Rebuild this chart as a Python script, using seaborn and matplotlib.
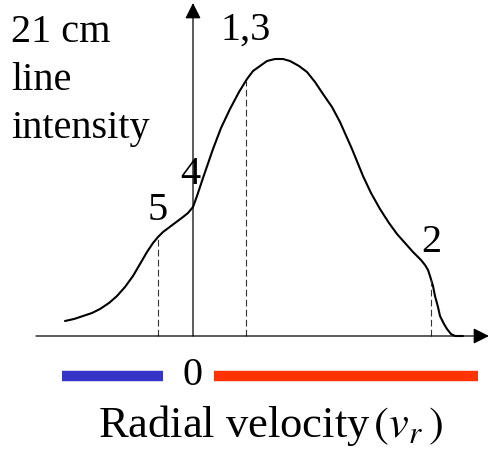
import matplotlib
matplotlib.use("Agg")
import matplotlib.pyplot as plt
import seaborn as sns
import pandas as pd

# 21 cm line profile (arbitrary units, v=0 at the vertical axis)
velocity = [-128, -119, -110, -101, -93, -84, -76, -68, -60, -53, -46, -40, -35,
            -30, -26, -18, -10, -5, 0, 4, 10, 20, 28, 37, 46, 54, 60, 67, 74,
            82, 90, 97, 106, 114, 122, 130, 139, 147, 159, 170, 178, 187, 196,
            204, 212, 220, 228, 232, 235, 237, 240, 242, 245, 247, 251, 254,
            258, 262, 270]
intensity = [15, 17, 20, 23, 27, 33, 40, 49, 60, 72, 84, 93, 99, 104, 107, 113,
             119, 123, 129, 140, 158, 187, 208, 227, 244, 257, 265, 270, 275,
             277, 277, 275, 270, 264, 254, 242, 229, 214, 187, 160, 143, 127,
             113, 102, 93, 84, 76, 71, 66, 60, 50, 40, 29, 20, 12, 7, 2, 0, 0]

# cloud markers: label, velocity, intensity where the dashed line meets the curve
cloud_labels = ["5", "1,3", "2"]
cloud_v = [-35, 53, 238]
cloud_i = [99, 255, 56]

profile = pd.DataFrame({"v": velocity, "I": intensity})

sns.set_style("white")
plt.rcParams["font.family"] = ["Liberation Serif", "DejaVu Serif"]
plt.rcParams["mathtext.fontset"] = "stix"
plt.rcParams["text.color"] = "black"

fig = plt.figure(figsize=(4.89, 4.52), dpi=100)
ax = fig.add_axes([0, 0, 1, 1])
ax.set_xlim(-193, 296)
ax.set_ylim(-115, 337)
ax.axis("off")

# axes with arrow heads
ax.annotate("", xy=(296, 0), xytext=(-157, 0),
            arrowprops=dict(arrowstyle="-|>", color="black", lw=0.9,
                            mutation_scale=24, shrinkA=0, shrinkB=0))
ax.annotate("", xy=(0, 333), xytext=(0, 0),
            arrowprops=dict(arrowstyle="-|>", color="black", lw=0.9,
                            mutation_scale=24, shrinkA=0, shrinkB=0))

sns.lineplot(data=profile, x="v", y="I", ax=ax, color="black", lw=1.5,
             sort=False, estimator=None)

ax.vlines(cloud_v, 0, cloud_i, colors="#333333", linestyles=(0, (6, 3)), lw=0.8)

fs = 29
ax.text(-35, 126, cloud_labels[0], fontsize=fs, ha="center", va="center")
ax.text(-3, 163, "4", fontsize=fs, ha="center", va="center")
ax.text(53, 307, cloud_labels[1], fontsize=fs, ha="center", va="center")
ax.text(238, 94, cloud_labels[2], fontsize=fs, ha="center", va="center")
ax.text(0, -39, "0", fontsize=fs, ha="center", va="center")

ax.text(-182, 323, "21 cm\nline\nintensity", fontsize=fs, ha="left", va="top",
        linespacing=1.4)

# blueshift / redshift bars
ax.hlines(-40, -131, -30, colors="#3535c8", lw=7.5)
ax.hlines(-40, 21, 285, colors="#ff3300", lw=7.5)

ax.text(77, -89, r"Radial velocity$\,(v_r\,)$", fontsize=32, ha="center",
        va="center")

fig.savefig("out.png", dpi=100)
